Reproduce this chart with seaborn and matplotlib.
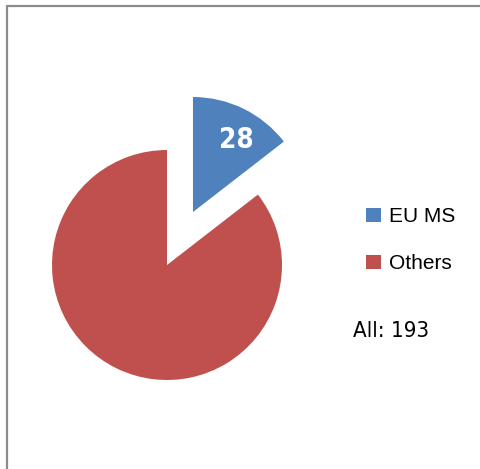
import matplotlib
matplotlib.use("Agg")
import matplotlib.pyplot as plt
import seaborn as sns
from matplotlib.lines import Line2D

categories = ["EU MS", "Others"]
values = [28, 165]
colors = ["#4F81BD", "#C0504D"]

sns.set_theme(style="white")
plt.rcParams['font.family'] = ['Liberation Sans', 'DejaVu Sans']
plt.rcParams['text.color'] = 'black'

W, H = 481, 469
fig = plt.figure(figsize=(W / 100, H / 100), dpi=100)
ax = fig.add_axes([0, 0, 1, 1])

total = sum(values)
wedges, texts, autotexts = ax.pie(
    values, colors=colors, startangle=90, counterclock=False,
    center=(167, H - 265), radius=115, explode=[59, 0],
    autopct=lambda p: f"{round(p * total / 100)}" if p < 50 else "",
    pctdistance=0.74, frame=True,
    wedgeprops=dict(linewidth=0),
    textprops=dict(color="white", fontsize=20, fontweight="bold",
                   family="DejaVu Sans", fontstretch="condensed"),
)
autotexts[0].set_position((236, H - 140))
ax.set_xlim(0, W)
ax.set_ylim(0, H)
ax.set_aspect("auto")
ax.axis("off")

leg = ax.legend(wedges, categories, loc="upper left",
                bbox_to_anchor=(358 / W, 1 - 199 / H),
                frameon=False, fontsize=15, handlelength=0.7,
                handleheight=0.7, handletextpad=0.4, labelspacing=1.35,
                borderaxespad=0, labelcolor="black")

ax.text(391, H - 331, f"All: {total}", ha="center", va="center",
        fontsize=16, family="DejaVu Sans", fontstretch="condensed",
        color="black")

fig.add_artist(Line2D([7 / W, 1], [1 - 6 / H, 1 - 6 / H],
                      transform=fig.transFigure, color="#8c8c8c", lw=1.6))
fig.add_artist(Line2D([7 / W, 7 / W], [0, 1 - 6 / H],
                      transform=fig.transFigure, color="#8c8c8c", lw=1.6))

fig.savefig("out.png", dpi=100, facecolor="white")
